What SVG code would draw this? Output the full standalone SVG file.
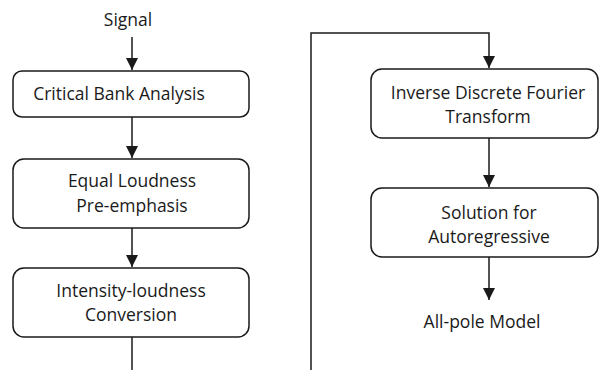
<svg xmlns="http://www.w3.org/2000/svg" width="599" height="370" viewBox="0 0 599 370">
  <defs>
    <marker id="arrow" viewBox="0 0 12 12" refX="12" refY="6" markerWidth="12" markerHeight="12" markerUnits="userSpaceOnUse" orient="auto">
      <path d="M0,0 L12,6 L0,12 Z" fill="#1a1a1a"/>
    </marker>
    <style>
      .box { fill: #ffffff; stroke: #1a1a1a; stroke-width: 1.5; }
      .wire { fill: none; stroke: #1a1a1a; stroke-width: 1.5; }
      text { font-family: "Open Sans", "Liberation Sans", sans-serif; font-size: 17.5px; fill: #1a1a1a; text-anchor: middle; }
    </style>
  </defs>
  <rect width="599" height="370" fill="#ffffff"/>

  <g id="connectors">
    <path class="wire" d="M132,37 V70" marker-end="url(#arrow)"/>
    <path class="wire" d="M132,117 V158" marker-end="url(#arrow)"/>
    <path class="wire" d="M132,228 V267" marker-end="url(#arrow)"/>
    <path class="wire" d="M132,337 V370"/>
    <path class="wire" d="M311,370 V33 H489 V68" marker-end="url(#arrow)"/>
    <path class="wire" d="M489,138 V187" marker-end="url(#arrow)"/>
    <path class="wire" d="M489,257 V300" marker-end="url(#arrow)"/>
  </g>

  <g id="signal">
    <text x="128" y="26">Signal</text>
  </g>
  <g id="critical-bank">
    <rect class="box" x="13" y="71" width="236" height="46" rx="9"/>
    <text x="119" y="100">Critical Bank Analysis</text>
  </g>
  <g id="equal-loudness">
    <rect class="box" x="13" y="159" width="236" height="69" rx="11"/>
    <text x="132" y="187">Equal Loudness</text>
    <text x="132" y="212">Pre-emphasis</text>
  </g>
  <g id="intensity-loudness">
    <rect class="box" x="13" y="268" width="236" height="69" rx="11"/>
    <text x="131" y="297">Intensity-loudness</text>
    <text x="131" y="321">Conversion</text>
  </g>
  <g id="idft">
    <rect class="box" x="371" y="69" width="227" height="69" rx="11"/>
    <text x="488" y="99">Inverse Discrete Fourier</text>
    <text x="488" y="123">Transform</text>
  </g>
  <g id="autoregressive">
    <rect class="box" x="371" y="188" width="227" height="69" rx="11"/>
    <text x="489" y="219">Solution for</text>
    <text x="489" y="243">Autoregressive</text>
  </g>
  <g id="all-pole">
    <text x="482" y="328">All-pole Model</text>
  </g>
</svg>
